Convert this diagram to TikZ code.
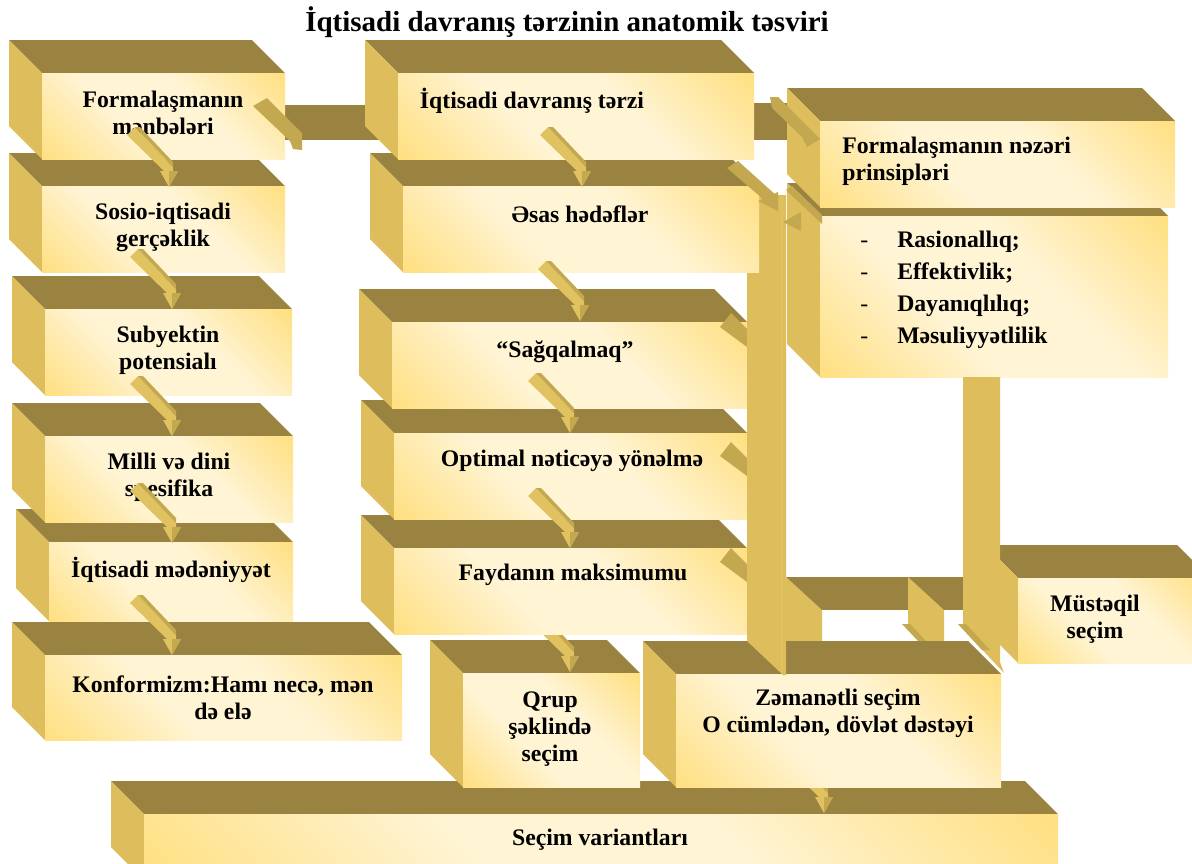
\documentclass[tikz,border=0pt]{standalone}
\usepackage{fontspec}
\setmainfont{Liberation Serif}
\usetikzlibrary{positioning}

\definecolor{topc}{RGB}{154,130,64}
\definecolor{sidec}{RGB}{222,190,92}
\definecolor{goldc}{RGB}{255,216,100}
\definecolor{creamc}{RGB}{255,244,212}
\definecolor{arrowl}{RGB}{224,194,96}
\definecolor{arrowm}{RGB}{196,168,80}
\definecolor{arrowd}{RGB}{178,152,72}

\pgfdeclareverticalshading{boxshade}{100bp}{color(0bp)=(goldc); color(6bp)=(goldc); color(40bp)=(creamc); color(60bp)=(creamc); color(94bp)=(goldc); color(100bp)=(goldc)}

% solid block: front face corners x1,y1,x2,y2 (px, y downwards)
\newcommand\cube[4]{%
  \fill[topface]  (#1-33,#2-33) -- (#3-33,#2-33) -- (#3,#2) -- (#1,#2) -- cycle;
  \fill[sideface] (#1-33,#2-33) -- (#1,#2) -- (#1,#4) -- (#1-33,#4-33) -- cycle;
  \shade[frontface] (#1,#2) rectangle (#3,#4);
}
% chunky arrow, tip at x,y
\newcommand\dnarrow[2]{%
  \begin{scope}[shift={(#1,#2)}]
    \fill[arrowl] (-42,-52) -- (-34,-60) -- (4,-20) -- (4,-15) -- (-4,-15) -- cycle;
    \fill[arrowm] (-34,-60) -- (-29,-60) -- (4,-25) -- (4,-20) -- cycle;
    \fill[arrowl] (-9,-16) -- (9,-16) -- (0,0) -- cycle;
    \fill[arrowm] (0,-16) -- (9,-16) -- (0,0) -- cycle;
  \end{scope}}
% wedge on the right end of a middle block
\newcommand\sidewedge[1]{%
  \fill[arrowm] (720,#1+14) -- (731,#1) -- (747,#1+16) -- (747,#1+34) -- cycle;}

\begin{document}
\begin{tikzpicture}[x=0.02cm, y=-0.02cm,
	topface/.style={fill=topc},
	sideface/.style={fill=sidec},
	frontface/.style={shading=boxshade, shading angle=135},
	boxtext/.style={font=\fontsize{13.5}{15.5}\selectfont\bfseries, align=center, inner sep=0pt},
	title/.style={font=\fontsize{16.5}{19}\selectfont\bfseries, inner sep=0pt}]
	\useasboundingbox (0,0) rectangle (1192,863);
	\clip (0,0) rectangle (1192,863);
	\fill[white] (0,0) rectangle (1192,863);

	\node[title] (title) at (567,22) {İqtisadi davranış tərzinin anatomik təsviri};

	% horizontal links from the main block
	\fill[topface] (270,105) rectangle (400,140);
	\fill[topface] (754,103) rectangle (790,140);

	% bottom row
	\cube{144}{814}{1058}{880}
	\cube{463}{673}{640}{787}
	\dnarrow{570}{672}
	\dnarrow{824}{813}
	\fill[topface] (786,577) rectangle (966,610);
	\fill[sideface] (786,577) -- (822,610) -- (822,641) -- (786,641) -- cycle;
	\fill[sideface] (908,577) -- (944,610) -- (944,641) -- (925,641) -- (908,625) -- cycle;
	\fill[arrowm] (902,624) -- (910,624) -- (926,641) -- (918,641) -- cycle;
	\cube{676}{674}{1001}{787}
	\cube{1018}{578}{1210}{663}

	% left column
	\cube{45}{655}{402}{740}
	\cube{49}{542}{293}{621}
	\cube{45}{436}{293}{522}
	\cube{45}{309}{292}{395}
	\cube{42}{186}{285}{272}
	\cube{42}{73}{285}{159}

	% middle column
	\cube{394}{548}{747}{634}
	\cube{394}{433}{747}{519}
	\cube{392}{322}{747}{408}
	\sidewedge{313}
	\sidewedge{442}
	\sidewedge{548}
	\fill[sideface] (747,195) -- (786,195) -- (786,675) -- (783,675) -- (747,641) -- cycle;
	\draw[arrowl, line width=0.6pt] (782,198) -- (782,672);
	\cube{403}{186}{759}{272}
	\cube{398}{73}{754}{159}

	% right column
	\cube{820}{216}{1168}{377}
	\cube{820}{121}{1175}{207}
	\fill[sideface] (963,377) -- (1000,377) -- (1000,662) -- (1004,673) -- (959,625) -- (963,625) -- cycle;
	\fill[arrowm] (958,624) -- (966,624) -- (990,650) -- (982,650) -- cycle;

	% arrow heads on the links
	\fill[arrowm] (253,106) -- (267,98) -- (302,133) -- (302,150) -- (293,149) -- (290,141) -- cycle;
	\fill[arrowm] (770,97) -- (778,97) -- (820,139) -- (807,147) -- (802,137) -- (772,108) -- cycle;
	\fill[arrowm] (727,168) -- (738,161) -- (778,197) -- (770,205) -- cycle;
	\fill[arrowm] (758,201) -- (778,192) -- (778,211) -- cycle;
	\fill[arrowm] (786,190) -- (792,186) -- (822,215) -- (822,224) -- cycle;
	\fill[arrowm] (783,222) -- (801,212) -- (801,231) -- cycle;

	% texts
	\node[boxtext] (sources)  at (163,113) {Formalaşmanın\\mənbələri};
	\node[boxtext] (reality)  at (163,227) {Sosio-iqtisadi\\gerçəklik};
	\node[boxtext] (potential) at (168,350) {Subyektin\\potensialı};
	\node[boxtext] (national) at (169,477) {Milli və dini\\spesifika};
	\node[boxtext] (culture)  at (171,570) {İqtisadi mədəniyyət};
	\node[boxtext] (conform)  at (223,698) {Konformizm:Hamı necə, mən\\də elə};
	\node[boxtext] (behaviour) at (532,101) {İqtisadi davranış tərzi};
	\node[boxtext] (goals)    at (580,214) {Əsas hədəflər};
	\node[boxtext] (survive)  at (565,352) {“Sağqalmaq”};
	\node[boxtext] (optimal)  at (572,461) {Optimal nəticəyə yönəlmə};
	\node[boxtext] (utility)  at (573,575) {Faydanın maksimumu};
	\node[boxtext, align=left, anchor=west] (principles) at (842,161) {Formalaşmanın nəzəri\\prinsipləri};
	\node[boxtext, align=left, anchor=west, font=\fontsize{13.5}{18.2}\selectfont\bfseries] (list) at (860,290)
		{\makebox[21pt][l]{\mdseries-}Rasionallıq;\\\makebox[21pt][l]{\mdseries-}Effektivlik;\\\makebox[21pt][l]{\mdseries-}Dayanıqlılıq;\\\makebox[21pt][l]{\mdseries-}Məsuliyyətlilik};
	\node[boxtext] (independent) at (1095,619) {Müstəqil\\seçim};
	\node[boxtext] (group)    at (550,729) {Qrup\\şəklində\\seçim};
	\node[boxtext] (guarantee) at (838,713) {Zəmanətli seçim\\O cümlədən, dövlət dəstəyi};
	\node[boxtext] (variants) at (600,840) {Seçim variantları};

	% chunky arrows down the columns
	\dnarrow{169}{187}
	\dnarrow{172}{309}
	\dnarrow{172}{436}
	\dnarrow{172}{543}
	\dnarrow{172}{655}
	\dnarrow{582}{187}
	\dnarrow{580}{321}
	\dnarrow{570}{433}
	\dnarrow{570}{548}
\end{tikzpicture}
\end{document}
